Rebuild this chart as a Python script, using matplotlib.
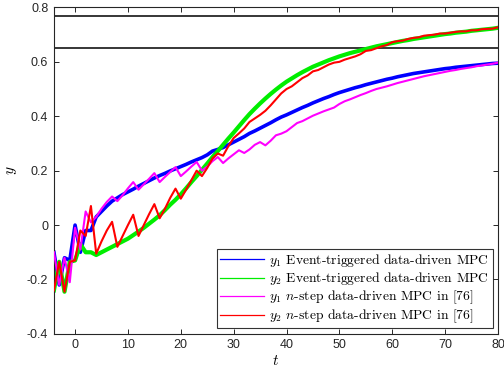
import numpy as np
import matplotlib
matplotlib.use("Agg")
import matplotlib.pyplot as plt

plt.rcParams["mathtext.fontset"] = "cm"

# time samples
t = np.arange(-4, 81)

# y1, event-triggered data-driven MPC
y1_et = [-0.10, -0.22, -0.12, -0.13, 0.00, -0.10, -0.02, -0.02, 0.03, 0.05,
         0.07, 0.088, 0.10, 0.112, 0.122, 0.132, 0.143, 0.153, 0.163, 0.173,
         0.182, 0.19, 0.199, 0.207, 0.215, 0.223, 0.232, 0.24, 0.248, 0.258,
         0.272, 0.278, 0.285, 0.295, 0.305, 0.315, 0.325, 0.337, 0.346, 0.356,
         0.366, 0.376, 0.387, 0.397, 0.405, 0.414, 0.423, 0.432, 0.44, 0.449,
         0.457, 0.465, 0.472, 0.48, 0.487, 0.493, 0.499, 0.505, 0.51, 0.516,
         0.521, 0.526, 0.531, 0.536, 0.54, 0.545, 0.549, 0.553, 0.557, 0.56,
         0.563, 0.566, 0.569, 0.572, 0.575, 0.577, 0.58, 0.582, 0.584, 0.586,
         0.588, 0.59, 0.592, 0.594, 0.595]

# y2, event-triggered data-driven MPC
y2_et = [-0.24, -0.135, -0.245, -0.135, -0.13, -0.07, -0.10, -0.10, -0.11, -0.10,
         -0.09, -0.08, -0.07, -0.06, -0.05, -0.037, -0.024, -0.01, 0.005, 0.02,
         0.036, 0.055, 0.075, 0.093, 0.113, 0.135, 0.158, 0.18, 0.203, 0.226,
         0.25, 0.272, 0.295, 0.318, 0.34, 0.363, 0.386, 0.408, 0.428, 0.447,
         0.465, 0.482, 0.498, 0.513, 0.527, 0.539, 0.551, 0.562, 0.572, 0.582,
         0.59, 0.598, 0.606, 0.613, 0.62, 0.626, 0.632, 0.637, 0.642, 0.647,
         0.652, 0.657, 0.661, 0.665, 0.669, 0.673, 0.677, 0.68, 0.684, 0.687,
         0.69, 0.693, 0.696, 0.699, 0.702, 0.704, 0.707, 0.709, 0.711, 0.714,
         0.716, 0.718, 0.72, 0.722, 0.725]

# y1, n-step data-driven MPC
y1_ns = [-0.10, -0.22, -0.12, -0.21, -0.01, -0.09, 0.05, 0.01, 0.03, 0.06,
         0.085, 0.105, 0.088, 0.11, 0.135, 0.158, 0.13, 0.15, 0.17, 0.191,
         0.158, 0.177, 0.195, 0.213, 0.18, 0.197, 0.215, 0.232, 0.20, 0.215,
         0.235, 0.25, 0.228, 0.245, 0.26, 0.275, 0.265, 0.278, 0.295, 0.305,
         0.293, 0.31, 0.33, 0.336, 0.345, 0.36, 0.375, 0.382, 0.392, 0.402,
         0.41, 0.418, 0.425, 0.432, 0.445, 0.455, 0.462, 0.47, 0.478, 0.485,
         0.493, 0.50, 0.505, 0.51, 0.516, 0.522, 0.527, 0.532, 0.537, 0.542,
         0.547, 0.551, 0.555, 0.559, 0.563, 0.567, 0.57, 0.574, 0.577, 0.58,
         0.584, 0.587, 0.59, 0.593, 0.597]

# y2, n-step data-driven MPC
y2_ns = [-0.24, -0.135, -0.245, -0.135, -0.13, -0.02, -0.04, 0.07, -0.105, -0.06,
         -0.02, 0.012, -0.08, -0.04, 0.0, 0.038, -0.04, 0.0, 0.04, 0.077,
         0.025, 0.06, 0.10, 0.134, 0.097, 0.13, 0.165, 0.20, 0.18, 0.21,
         0.245, 0.263, 0.255, 0.29, 0.32, 0.337, 0.355, 0.379, 0.392, 0.405,
         0.42, 0.44, 0.462, 0.484, 0.50, 0.51, 0.525, 0.54, 0.55, 0.565,
         0.57, 0.58, 0.59, 0.597, 0.60, 0.608, 0.614, 0.62, 0.628, 0.64,
         0.643, 0.65, 0.657, 0.662, 0.672, 0.676, 0.678, 0.684, 0.688, 0.69,
         0.696, 0.698, 0.70, 0.704, 0.704, 0.707, 0.71, 0.712, 0.712, 0.716,
         0.716, 0.72, 0.721, 0.722, 0.727]

# reference levels
ref_levels = [0.77, 0.65]

labels = [r"$y_1$ Event-triggered data-driven MPC",
          r"$y_2$ Event-triggered data-driven MPC",
          r"$y_1$ $n$-step data-driven MPC in [76]",
          r"$y_2$ $n$-step data-driven MPC in [76]"]

xticks = [0, 10, 20, 30, 40, 50, 60, 70, 80]
yticks = [-0.4, -0.2, 0, 0.2, 0.4, 0.6, 0.8]
yticklabels = ["-0.4", "-0.2", "0", "0.2", "0.4", "0.6", "0.8"]

fig = plt.figure(figsize=(5.04, 3.71), dpi=100)
ax = fig.add_axes([0.107, 0.1, 0.881, 0.88])

for lvl in ref_levels:
    ax.axhline(lvl, color="black", lw=1.1, zorder=1)

ax.plot(t, y1_et, color="#0000ff", lw=2.6, label=labels[0], zorder=2)
ax.plot(t, y2_et, color="#00ee00", lw=3.0, label=labels[1], zorder=2)
ax.plot(t, y1_ns, color="#ff00ff", lw=1.5, label=labels[2], zorder=3)
ax.plot(t, y2_ns, color="#ff0000", lw=1.5, label=labels[3], zorder=4)

ax.set_xlim(-4, 80)
ax.set_ylim(-0.4, 0.8)
ax.set_xticks(xticks)
ax.set_yticks(yticks)
ax.set_yticklabels(yticklabels)

tick_color = "#262626"
ax.tick_params(direction="in", length=3.5, width=0.7, colors=tick_color,
               top=True, right=True, labelsize=9, pad=4)
for lab in ax.get_xticklabels() + ax.get_yticklabels():
    lab.set_family("Liberation Sans")
for sp in ax.spines.values():
    sp.set_color(tick_color)
    sp.set_linewidth(0.8)

ax.set_xlabel(r"$t$", fontsize=11, labelpad=1)
ax.set_ylabel(r"$y$", fontsize=11, labelpad=6)

leg = ax.legend(loc="lower right", prop={"family": "cmr10", "size": 9.8},
                frameon=True, fancybox=False, edgecolor="black",
                borderpad=0.25, labelspacing=0.1, handlelength=3.2,
                handletextpad=0.4, borderaxespad=0.4)
leg.get_frame().set_linewidth(0.8)
for line in leg.get_lines():
    line.set_linewidth(0.9)

fig.savefig("out.png", dpi=100)
